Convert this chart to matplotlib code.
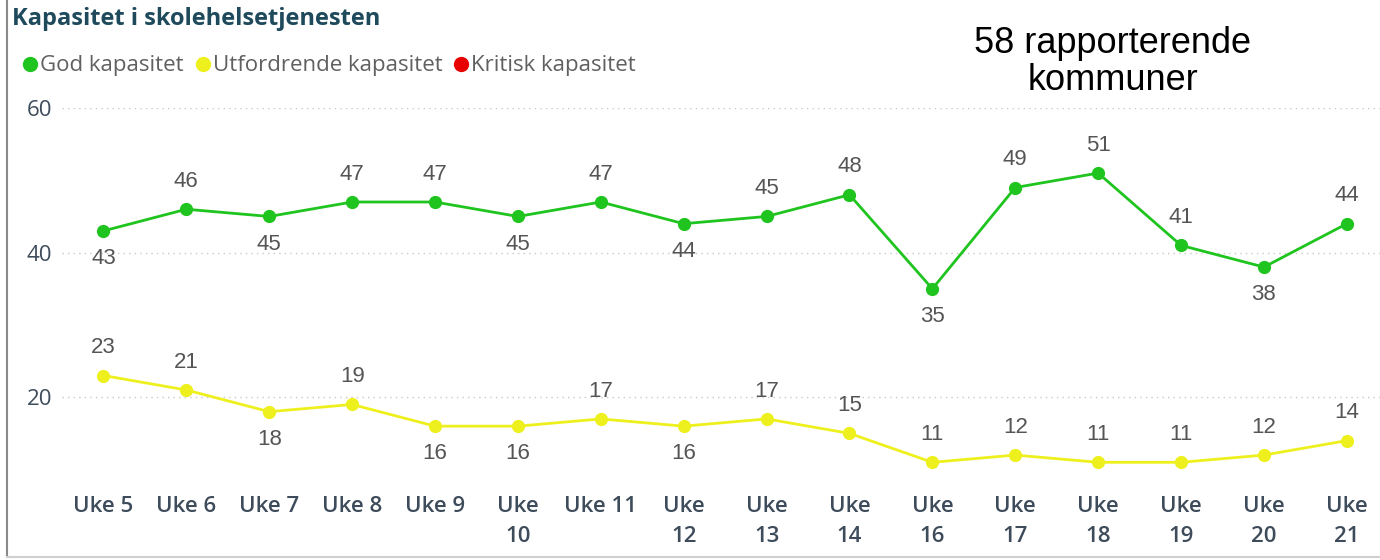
import matplotlib.pyplot as plt
from matplotlib.lines import Line2D

weeks = ['Uke 5', 'Uke 6', 'Uke 7', 'Uke 8', 'Uke 9', 'Uke\n10', 'Uke 11', 'Uke\n12',
         'Uke\n13', 'Uke\n14', 'Uke\n16', 'Uke\n17', 'Uke\n18', 'Uke\n19', 'Uke\n20', 'Uke\n21']
god = [43, 46, 45, 47, 47, 45, 47, 44, 45, 48, 35, 49, 51, 41, 38, 44]
utfordrende = [23, 21, 18, 19, 16, 16, 17, 16, 17, 15, 11, 12, 11, 11, 12, 14]
# label placement: 1 = above, -1 = below
god_pos = [-1, 1, -1, 1, 1, -1, 1, -1, 1, 1, -1, 1, 1, 1, -1, 1]
utf_pos = [1, 1, -1, 1, -1, -1, 1, -1, 1, 1, 1, 1, 1, 1, 1, 1]

green = '#1fc41f'
yellow = '#eef01e'
red = '#e80000'
label_col = '#555555'
tick_col = '#3d4b5a'

plt.rcParams['font.family'] = ['Open Sans', 'DejaVu Sans']

fig = plt.figure(figsize=(13.8, 5.6), dpi=100)
ax = fig.add_axes([62 / 1380, 1 - 484 / 560, 1 - 62 / 1380, 376 / 560])

x = list(range(len(weeks)))
ax.plot(x, god, color=green, lw=2, marker='o', ms=8.5, zorder=3)
ax.plot(x, utfordrende, color=yellow, lw=2, marker='o', ms=8.5, zorder=3)

for xi, v, p in zip(x, god, god_pos):
    ax.annotate(str(v), (xi, v), xytext=(0, 20 * p), textcoords='offset points',
                ha='center', va='center', fontsize=16, color=label_col, family='Liberation Sans')
for xi, v, p in zip(x, utfordrende, utf_pos):
    ax.annotate(str(v), (xi, v), xytext=(0, 20 * p), textcoords='offset points',
                ha='center', va='center', fontsize=16, color=label_col, family='Liberation Sans')

ax.set_xlim(-0.5, 15.4)
ax.set_ylim(8, 60)
ax.set_yticks([20, 40, 60])
ax.set_xticks(x)
ax.set_xticklabels(weeks, linespacing=1.55)
ax.tick_params(axis='both', length=0, labelsize=16, colors=tick_col)
ax.tick_params(axis='x', pad=9)
ax.tick_params(axis='y', pad=7)
for lab in ax.get_xticklabels():
    lab.set_fontweight('semibold')
ax.grid(axis='y', color='#c8c8c8', linestyle=(0, (1, 3)), lw=1)
ax.set_axisbelow(True)
for s in ax.spines.values():
    s.set_visible(False)

fig.text(12 / 1380, 1 - 19 / 560, 'Kapasitet i skolehelsetjenesten', fontsize=17,
         fontweight='bold', color='#1e4a5c', ha='left', va='center')

handles = [Line2D([], [], ls='none', marker='o', ms=10, color=c) for c in (green, yellow, red)]
fig.legend(handles, ['God kapasitet', 'Utfordrende kapasitet', 'Kritisk kapasitet'],
           loc='center left', bbox_to_anchor=(9 / 1380, 1 - 66 / 560), ncol=3, frameon=False,
           fontsize=16, labelcolor='#606060', handletextpad=0.0, columnspacing=0.4,
           handlelength=0.9, borderpad=0)

fig.text(1113 / 1380, 1 - 62 / 560, '58 rapporterende\nkommuner', fontsize=26,
         family='Liberation Sans', color='black', ha='center', va='center', linespacing=1.1)

fig.add_artist(Line2D([7 / 1380, 7 / 1380], [0.005, 1], color='#8a8a8a', lw=1.5))
fig.add_artist(Line2D([7 / 1380, 1], [1 - 557 / 560, 1 - 557 / 560], color='#d0d0d0', lw=1.5))

fig.savefig('out.png', dpi=100)
